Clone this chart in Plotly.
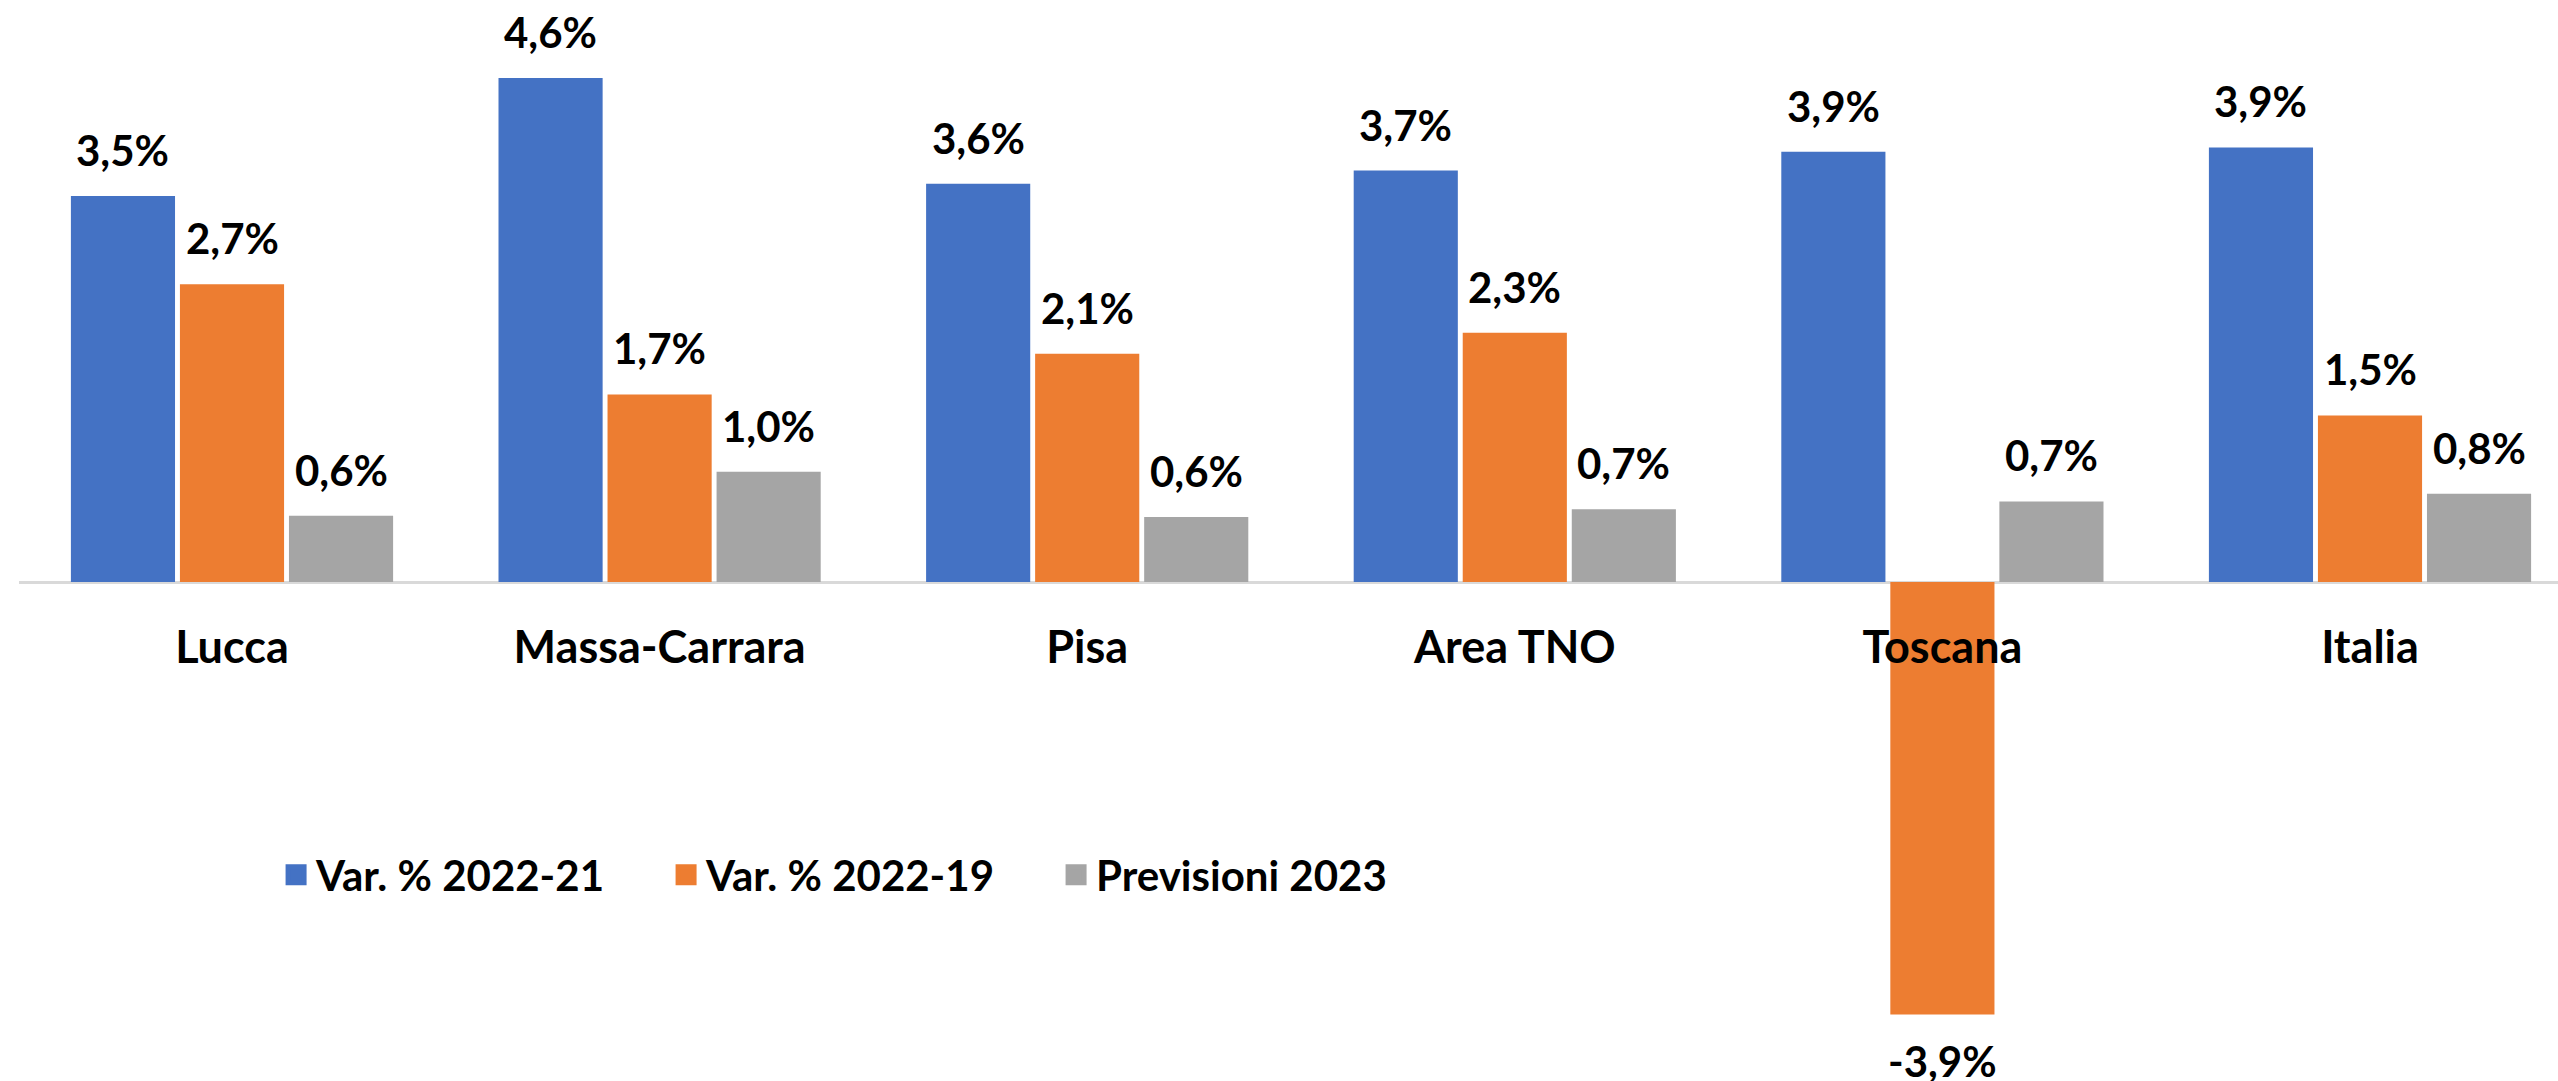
import plotly.graph_objects as go

# ---- data ----
categories = ["Lucca", "Massa-Carrara", "Pisa", "Area TNO", "Toscana", "Italia"]
var_2022_21 = [3.5, 4.57, 3.61, 3.73, 3.9, 3.94]
var_2022_19 = [2.7, 1.7, 2.07, 2.26, -3.92, 1.51]
previsioni_2023 = [0.6, 1.0, 0.59, 0.66, 0.73, 0.8]
series_names = ["Var. % 2022-21", "Var. % 2022-19", "Previsioni 2023"]
series_values = [var_2022_21, var_2022_19, previsioni_2023]
colors = ["#4472C4", "#ED7D31", "#A5A5A5"]

# ---- layout constants ----
W, H = 2558, 1081
ZERO_PX = 582          # pixel row of the zero line
PX_PER_UNIT = 110.3
Y_TOP = ZERO_PX / PX_PER_UNIT
Y_BOTTOM = -(H - ZERO_PX) / PX_PER_UNIT
BARGAP = 0.235
BARGROUPGAP = 0.045
FONT = "Lato"


def fmt(v):
    return f"{v:.1f}".replace(".", ",") + "%"


fig = go.Figure()
for name, vals, col in zip(series_names, series_values, colors):
    fig.add_trace(go.Bar(
        x=categories, y=vals, name=name,
        marker=dict(color=col, line=dict(width=0)),
        hoverinfo="skip", showlegend=False,
    ))
# legend entries (larger square swatches)
for name, col in zip(series_names, colors):
    fig.add_trace(go.Scatter(
        x=[None], y=[None], name=name, mode="markers",
        marker=dict(symbol="square", size=16, color=col,
                    line=dict(color=col, width=5)),
        hoverinfo="skip", showlegend=True,
    ))

slot = (1 - BARGAP) / len(series_values)
annotations = []
for j, vals in enumerate(series_values):
    for i, v in enumerate(vals):
        annotations.append(dict(
            x=i + (j - 1) * slot, y=v, xref="x", yref="y",
            text=fmt(v), showarrow=False, yanchor="middle",
            yshift=46 if v >= 0 else -47,
            font=dict(family=FONT, size=42, color="#000000", weight="bold"),
        ))

fig.update_layout(
    width=W, height=H,
    margin=dict(l=19, r=0, t=0, b=0),
    paper_bgcolor="white", plot_bgcolor="white",
    barmode="group", bargap=BARGAP, bargroupgap=BARGROUPGAP,
    showlegend=True,
    legend=dict(
        orientation="h", x=259 / W, xanchor="left",
        y=(H - 875) / H, yanchor="middle",
        font=dict(family=FONT, size=42, color="#000000", weight="bold"),
        entrywidth=345, entrywidthmode="pixels",
        bgcolor="rgba(0,0,0,0)",
    ),
    annotations=annotations,
    xaxis=dict(
        type="category",
        range=[-(232 - 19) / 427.6, (W - 232) / 427.6],
        anchor="free", position=(H - ZERO_PX) / H,
        showline=False, showgrid=False, zeroline=False, ticks="",
        tickfont=dict(family=FONT, size=45, color="#000000", weight="bold"),
        ticklabelstandoff=35,
    ),
    yaxis=dict(
        range=[Y_BOTTOM, Y_TOP],
        showgrid=False, showticklabels=False, ticks="",
        zeroline=True, zerolinecolor="#D9D9D9", zerolinewidth=3,
    ),
)

fig.write_html(
    "out.html",
    config={"displayModeBar": False},
    post_script="document.body.style.margin='0';document.body.style.overflow='hidden';",
)
